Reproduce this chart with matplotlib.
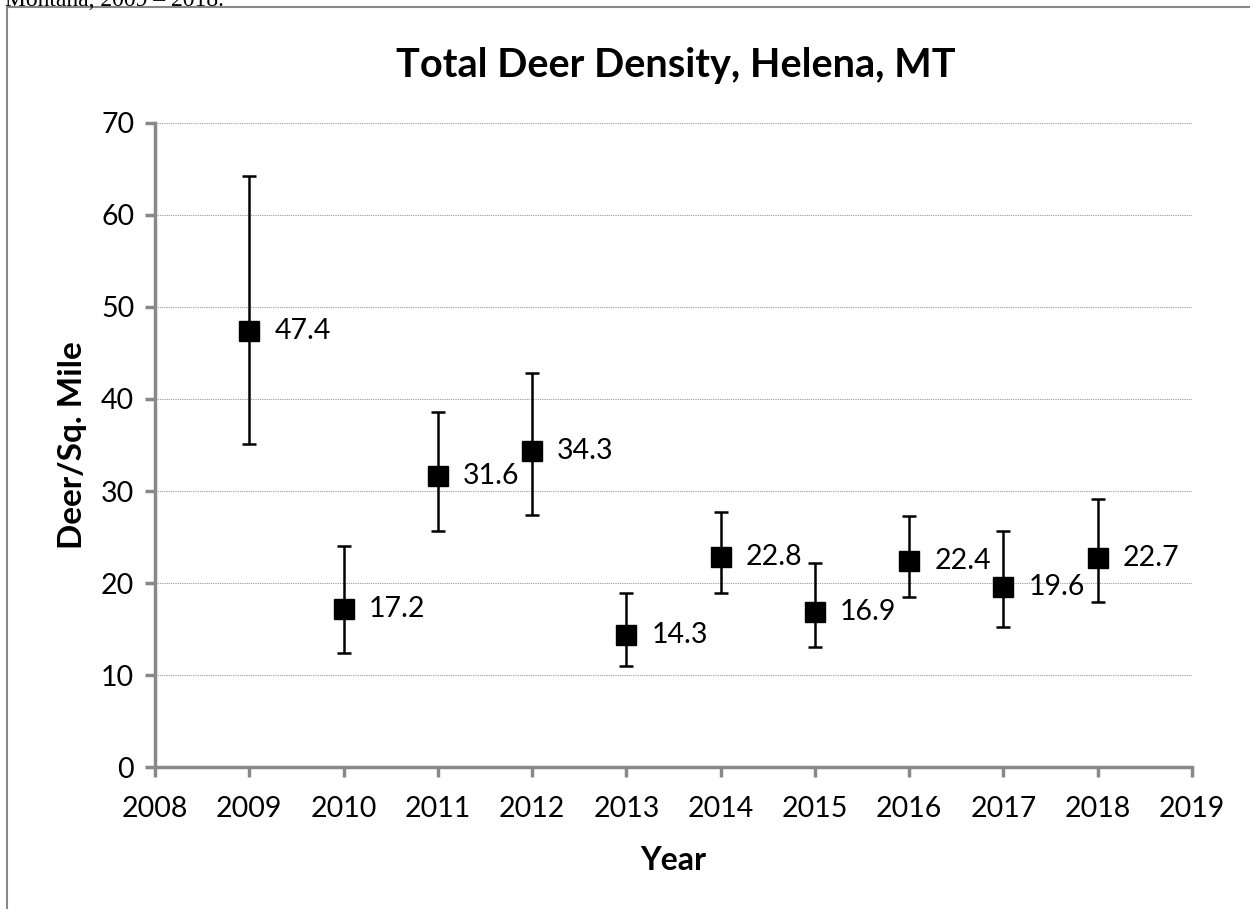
import matplotlib.pyplot as plt
from matplotlib.patches import Rectangle

years = [2009, 2010, 2011, 2012, 2013, 2014, 2015, 2016, 2017, 2018]
density = [47.4, 17.2, 31.6, 34.3, 14.3, 22.8, 16.9, 22.4, 19.6, 22.7]
upper = [64.2, 24.0, 38.6, 42.8, 18.9, 27.7, 22.2, 27.3, 25.6, 29.1]
lower = [35.1, 12.4, 25.7, 27.4, 11.0, 18.9, 13.0, 18.5, 15.2, 17.9]

plt.rcParams['font.family'] = ['Lato', 'DejaVu Sans']

err_lo = [d - l for d, l in zip(density, lower)]
err_hi = [u - d for u, d in zip(upper, density)]

fig = plt.figure(figsize=(12.5, 9.09), dpi=100)
ax = fig.add_axes([0.124, 0.1562, 0.8296, 0.7085])

ax.errorbar(years, density, yerr=[err_lo, err_hi], fmt="s", color="black",
            markersize=14, elinewidth=1.8, capsize=5, capthick=1.8, zorder=3)

for x, y in zip(years, density):
    ax.annotate(f"{y:.1f}", (x, y), xytext=(18, 0), textcoords="offset points",
                va="center", ha="left", fontsize=20.5)

ax.set_xlim(2008, 2019)
ax.set_ylim(0, 70)
ax.set_xticks(range(2008, 2020))
ax.set_yticks(range(0, 71, 10))
ax.tick_params(axis="both", labelsize=20.5, color="#888888", width=2.5, length=7)
ax.tick_params(axis="x", pad=14)
ax.tick_params(axis="y", pad=8)

ax.grid(axis="y", color="#999999", linestyle=(0, (1, 1)), linewidth=0.8)
ax.set_axisbelow(True)
for s in ["top", "right"]:
    ax.spines[s].set_color("none")
for s in ["left", "bottom"]:
    ax.spines[s].set_color("#888888")
    ax.spines[s].set_linewidth(2.5)

ax.set_xlabel("Year", fontsize=23, fontweight="bold", labelpad=17)
ax.set_ylabel("Deer/Sq. Mile", fontsize=24, fontweight="bold", labelpad=10)

fig.text(0.541, 0.928, "Total Deer Density, Helena, MT", ha="center", va="center",
         fontsize=28.5, fontweight="bold")

# clipped caption from the page above the chart
fig.text(0.004, 0.999, "Montana, 2009 \u2013 2018.", ha="left", va="center",
         fontsize=17, family="Liberation Serif")

# outer chart frame
fig.patches.append(Rectangle((7 / 1250, -0.01), 1.0, 1.0023, transform=fig.transFigure,
                             fill=False, edgecolor="#888888", linewidth=1.5))

fig.savefig("out.png", dpi=100)
